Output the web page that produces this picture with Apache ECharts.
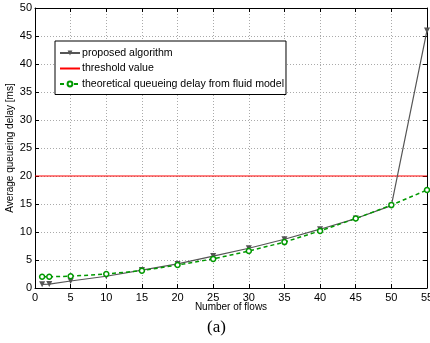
<!DOCTYPE html>
<html>
<head>
<meta charset="utf-8">
<script src="https://cdn.jsdelivr.net/npm/echarts@6/dist/echarts.min.js"></script>
<style>html,body{margin:0;padding:0;background:#fff}#c{width:430px;height:343px}</style>
</head>
<body>
<div id="c"></div>
<script>
var flows = [1, 2, 5, 10, 15, 20, 25, 30, 35, 40, 45, 50, 55];
var proposed = [0.65, 0.7, 1.25, 2.1, 3.2, 4.3, 5.7, 7.1, 8.7, 10.5, 12.4, 14.7, 46];
var theoretical = [2.0, 2.0, 2.1, 2.5, 3.1, 4.1, 5.2, 6.6, 8.2, 10.2, 12.4, 14.8, 17.5];
var thresholdX = [0, 55];
var thresholdY = [20, 20];
var xTicks = [0, 5, 10, 15, 20, 25, 30, 35, 40, 45, 50, 55];
var yTicks = [0, 5, 10, 15, 20, 25, 30, 35, 40, 45, 50];

function pairs(xs, ys) { return xs.map(function (x, i) { return [x, ys[i]]; }); }

var font = 'Liberation Sans, Arial, sans-serif';
var chart = echarts.init(document.getElementById('c'), null, {renderer: 'canvas'});
chart.setOption({
  animation: false,
  backgroundColor: '#fff',
  grid: {left: 35, right: 3, top: 8, bottom: 55, containLabel: false, outerBoundsMode: 'none'},
  legend: {
    orient: 'vertical', left: 55, top: 41,
    backgroundColor: '#fff', borderColor: '#000', borderWidth: 1,
    padding: [6.5, 2, 5, 4],
    itemWidth: 20, itemHeight: 6, itemGap: 4.5,
    textStyle: {fontFamily: font, fontSize: 10.6, color: '#000', padding: [0, 0, 0, -3]},
    data: [
      {name: 'proposed algorithm'},
      {name: 'threshold value', itemStyle: {opacity: 0}},
      {name: 'theoretical queueing delay from fluid model'}
    ]
  },
  xAxis: [{
    type: 'value', min: 0, max: 55, interval: 5,
    name: 'Number of flows', nameLocation: 'middle', nameGap: 14, nameMoveOverlap: false,
    nameTextStyle: {fontFamily: font, fontSize: 10, color: '#000'},
    axisLine: {onZero: false, lineStyle: {color: '#000', width: 1}},
    axisTick: {inside: true, length: 4, lineStyle: {color: '#000'}},
    axisLabel: {fontFamily: font, fontSize: 11, color: '#000', margin: 4},
    splitLine: {show: true, lineStyle: {type: [1, 2], color: '#aaa', width: 1}}
  }, {
    type: 'value', min: 0, max: 55, interval: 5, position: 'top',
    axisLine: {show: true, onZero: false, lineStyle: {color: '#000', width: 1}},
    axisTick: {inside: true, length: 4, lineStyle: {color: '#000'}},
    axisLabel: {show: false}, splitLine: {show: false}
  }],
  yAxis: [{
    type: 'value', min: 0, max: 50, interval: 5,
    name: 'Average queueing delay [ms]', nameLocation: 'middle', nameGap: 20, nameRotate: 90, nameMoveOverlap: false,
    nameTextStyle: {fontFamily: font, fontSize: 10, color: '#000'},
    axisLine: {show: true, onZero: false, lineStyle: {color: '#000', width: 1}},
    axisTick: {inside: true, length: 4, lineStyle: {color: '#000'}},
    axisLabel: {fontFamily: font, fontSize: 11, color: '#000', margin: 3},
    splitLine: {show: true, lineStyle: {type: [1, 2], color: '#aaa', width: 1}}
  }, {
    type: 'value', min: 0, max: 50, interval: 5, position: 'right',
    axisLine: {show: true, onZero: false, lineStyle: {color: '#000', width: 1}},
    axisTick: {inside: true, length: 4, lineStyle: {color: '#000'}},
    axisLabel: {show: false}, splitLine: {show: false}
  }],
  series: [{
    name: 'proposed algorithm', type: 'line', data: pairs(flows, proposed),
    symbol: 'triangle', symbolRotate: 180, symbolSize: 6, showAllSymbol: true,
    lineStyle: {color: '#555', width: 1.2}, itemStyle: {color: '#555'}, z: 3
  }, {
    name: 'threshold value', type: 'line', data: pairs(thresholdX, thresholdY),
    symbol: 'none', lineStyle: {color: '#f00', width: 1}, itemStyle: {color: '#f00'}, z: 2
  }, {
    name: 'theoretical queueing delay from fluid model', type: 'line', data: pairs(flows, theoretical),
    symbol: 'circle', symbolSize: 5, showAllSymbol: true,
    lineStyle: {color: '#009900', width: 1.5, type: [4, 3]},
    itemStyle: {color: '#fff', borderColor: '#009900', borderWidth: 1.5}, z: 4
  }],
  graphic: [{
    type: 'text', left: 207, top: 319,
    style: {text: '(a)', font: '17px "Liberation Serif", "Times New Roman", serif', fill: '#000'}
  }]
});
</script>
</body>
</html>
